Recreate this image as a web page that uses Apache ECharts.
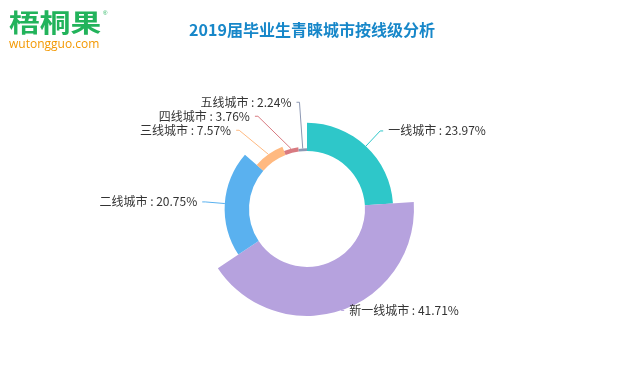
<!DOCTYPE html>
<html>
<head>
<meta charset="utf-8">
<script src="https://cdn.jsdelivr.net/npm/echarts@6/dist/echarts.min.js"></script>
<style>html,body{margin:0;padding:0;background:#fff;}#c{width:640px;height:372px;}</style>
</head>
<body>
<div id="c"></div>
<script>
var categories = ['一线城市', '新一线城市', '二线城市', '三线城市', '四线城市', '五线城市'];
var values = [23.97, 41.71, 20.75, 7.57, 3.76, 2.24];
var colors = ['#2ec7c9', '#b6a2de', '#5ab1ef', '#ffb980', '#d87a80', '#8d98b3'];
var titleText = '2019届毕业生青睐城市按线级分析';

var chart = echarts.init(document.getElementById('c'));
var data = categories.map(function (n, i) { return { name: n, value: values[i] }; });
chart.setOption({
  color: colors,
  title: {
    text: titleText,
    left: 307,
    textAlign: 'center',
    top: 17,
    textStyle: { color: '#1787c9', fontSize: 16, fontWeight: 'bold', fontFamily: 'Noto Sans CJK SC' }
  },
  graphic: [
    { type: 'text', left: 9, top: 10, scaleX: 1.28, scaleY: 1.05, style: { text: '梧桐果', fill: '#22b35b', font: 'bold 24px "Noto Sans CJK SC"' } },
    { type: 'text', left: 103, top: 10, style: { text: '®', fill: '#22b35b', font: '6px sans-serif' } },
    { type: 'text', left: 9, top: 39, style: { text: 'wutongguo.com', fill: '#f39800', font: '12px "Open Sans"' } }
  ],
  series: [{
    type: 'pie',
    roseType: 'radius',
    center: [307, 209],
    radius: [58, 107],
    startAngle: 90,
    data: data,
    label: {
      formatter: '{b} : {c}%',
      color: '#333',
      fontSize: 12,
      fontFamily: 'Noto Sans CJK SC'
    },
    labelLine: { length: 0, length2: 3 }
  }]
});
</script>
</body>
</html>
